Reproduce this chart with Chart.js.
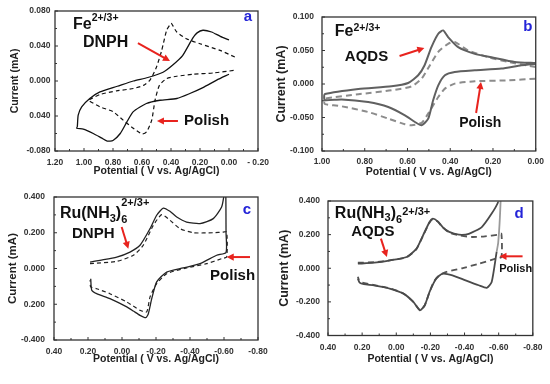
<!DOCTYPE html>
<html><head><meta charset="utf-8">
<script src="https://cdn.jsdelivr.net/npm/chart.js@4"></script>
<style>
html,body{margin:0;padding:0;background:#fff;width:550px;height:384px;overflow:hidden}
canvas{position:absolute;left:0;top:0}
</style></head><body>
<canvas id="ca" width="550" height="384"></canvas>
<canvas id="cb" width="550" height="384"></canvas>
<canvas id="cc" width="550" height="384"></canvas>
<canvas id="cd" width="550" height="384"></canvas>
<script>
// ---------- Panel a : Fe2+/3+ , DNPH vs Polish ----------
const aDnphV = [0.00,0.06,0.12,0.18,0.22,0.25,0.32,0.39,0.455,0.56,0.66,0.77,0.89,0.96,1.016,1.04,1.046,1.05,1.005,0.936,0.88,0.84,0.80,0.75,0.705,0.66,0.57,0.476,0.36,0.27,0.18,0.085,0.00];
const aDnphI = [0.047,0.051,0.056,0.058,0.055,0.049,0.029,0.018,0.010,0.004,0.000,-0.006,-0.0125,-0.020,-0.0295,-0.039,-0.052,-0.054,-0.055,-0.060,-0.065,-0.0686,-0.068,-0.060,-0.047,-0.035,-0.0257,-0.022,-0.020,-0.0143,-0.0075,0.001,0.0077];
const aPolishV = [-0.04,0.062,0.20,0.29,0.36,0.395,0.40,0.43,0.464,0.50,0.545,0.59,0.66,0.775,0.89,0.96,0.97,0.89,0.80,0.73,0.66,0.60,0.568,0.533,0.51,0.48,0.43,0.36,0.246,0.108,-0.04];
const aPolishI = [0.0274,0.035,0.0426,0.048,0.056,0.0654,0.066,0.058,0.035,0.016,0.001,-0.005,-0.0086,-0.0113,-0.0154,-0.021,-0.022,-0.0295,-0.035,-0.0447,-0.054,-0.0606,-0.058,-0.0447,-0.022,-0.005,0.0028,0.0054,0.0077,0.0092,0.0122];
const aXVals = [1.2,1.0,0.8,0.6,0.4,0.2,0.0,-0.2];
const aXLabels = ['1.20','1.00','0.80','0.60','0.40','0.20','0.00','- 0.20'];
const aYVals = [0.08,0.04,0,-0.04,-0.08];
const aYLabels = ['0.080','0.040','0.000','0.040','-0.080'];

// ---------- Panel b : Fe2+/3+ , AQDS vs Polish ----------
const bAqdsV = [0.00,0.098,0.207,0.285,0.363,0.41,0.433,0.456,0.488,0.52,0.55,0.597,0.675,0.83,0.986,0.99,0.986,0.908,0.784,0.69,0.612,0.565,0.534,0.503,0.48,0.456,0.425,0.379,0.285,0.16,0.067,0.00];
const bAqdsI = [0.0313,0.033,0.040,0.045,0.055,0.070,0.080,0.075,0.055,0.028,0.013,0.0015,-0.0034,-0.0075,-0.015,-0.020,-0.0243,-0.023,-0.027,-0.0343,-0.0467,-0.0567,-0.0616,-0.0517,-0.0243,-0.002,0.013,0.018,0.0205,0.023,0.028,0.030];
const bPolishV = [0.00,0.13,0.223,0.316,0.379,0.41,0.456,0.495,0.534,0.58,0.675,0.83,0.986,0.99,0.986,0.908,0.784,0.69,0.612,0.58,0.534,0.503,0.456,0.425,0.379,0.285,0.13,0.00];
const bPolishI = [0.0254,0.033,0.040,0.050,0.0627,0.060,0.048,0.028,0.008,-0.0034,-0.0094,-0.0153,-0.022,-0.026,-0.030,-0.0333,-0.0418,-0.0517,-0.0601,-0.0616,-0.058,-0.044,-0.0194,-0.0069,0.0006,0.004,0.0055,0.008];
const bXVals = [1.0,0.8,0.6,0.4,0.2,0.0];
const bXLabels = ['1.00','0.80','0.60','0.40','0.20','0.00'];
const bYVals = [0.1,0.05,0,-0.05,-0.1];
const bYLabels = ['0.100','0.050','0.000','-0.050','-0.100'];

// ---------- Panel c : Ru(NH3)6 2+/3+ , DNPH vs Polish ----------
const cDnphV = [0.188,0.13,0.031,-0.047,-0.106,-0.165,-0.204,-0.243,-0.282,-0.322,-0.38,-0.459,-0.537,-0.586,-0.60,-0.604,-0.61,-0.612,-0.612,-0.557,-0.459,-0.36,-0.263,-0.204,-0.175,-0.155,-0.14,-0.106,-0.067,-0.028,0.071,0.149,0.178,0.184];
const cDnphI = [0.036,0.046,0.064,0.092,0.13,0.223,0.298,0.338,0.32,0.288,0.26,0.251,0.279,0.344,0.41,0.45,0.45,0.2,0.09,0.074,0.027,0.003,-0.02,-0.075,-0.169,-0.253,-0.275,-0.262,-0.238,-0.215,-0.169,-0.141,-0.122,-0.057];
const cPolishV = [0.188,0.031,-0.067,-0.125,-0.184,-0.233,-0.282,-0.341,-0.42,-0.537,-0.596,-0.616,-0.616,-0.586,-0.498,-0.38,-0.263,-0.204,-0.165,-0.145,-0.106,-0.028,0.071,0.149,0.184,0.188];
const cPolishI = [0.027,0.04,0.074,0.13,0.241,0.301,0.27,0.223,0.20,0.20,0.204,0.204,0.065,0.055,0.027,0.003,-0.029,-0.085,-0.159,-0.243,-0.234,-0.187,-0.141,-0.113,-0.103,-0.066];
const cXVals = [0.4,0.2,0,-0.2,-0.4,-0.6,-0.8];
const cXLabels = ['0.40','0.20','0.00','-0.20','-0.40','-0.60','-0.80'];
const cYVals = [0.4,0.2,0,-0.2,-0.4];
const cYLabels = ['0.400','0.200','0.000','0.200','-0.400'];

// ---------- Panel d : Ru(NH3)6 2+/3+ , AQDS vs Polish ----------
const dAqdsV = [0.225,0.129,0.034,-0.061,-0.118,-0.157,-0.195,-0.214,-0.243,-0.272,-0.31,-0.367,-0.425,-0.501,-0.559,-0.597,-0.605,-0.612,-0.607,-0.597,-0.588,-0.559,-0.53,-0.483,-0.406,-0.329,-0.272,-0.233,-0.195,-0.167,-0.138,-0.1,-0.042,0.034,0.13,0.19,0.215,0.225];
const dAqdsI = [0.027,0.033,0.047,0.067,0.116,0.196,0.275,0.295,0.279,0.245,0.216,0.2,0.205,0.245,0.325,0.394,0.45,0.45,0.3,0.15,0.097,-0.082,-0.116,-0.101,-0.072,-0.042,-0.032,-0.062,-0.141,-0.22,-0.25,-0.2,-0.151,-0.122,-0.102,-0.095,-0.085,-0.062];
const dPolishV = [0.225,0.129,0.034,-0.061,-0.118,-0.157,-0.195,-0.214,-0.243,-0.272,-0.31,-0.367,-0.444,-0.52,-0.597,-0.616,-0.616,-0.582,-0.483,-0.39,-0.294,-0.253,-0.22,-0.195,-0.167,-0.14,-0.1,-0.042,0.034,0.13,0.2,0.22,0.225];
const dPolishI = [0.033,0.036,0.048,0.066,0.114,0.194,0.272,0.292,0.277,0.243,0.212,0.196,0.186,0.19,0.2,0.205,0.067,0.057,0.027,0.001,-0.022,-0.042,-0.08,-0.141,-0.22,-0.25,-0.2,-0.15,-0.12,-0.1,-0.085,-0.066,-0.05];
const dXVals = [0.4,0.2,0,-0.2,-0.4,-0.6,-0.8];
const dXLabels = ['0.40','0.20','0.00','-0.20','-0.40','-0.60','-0.80'];
const dYVals = [0.4,0.2,0,-0.2,-0.4];
const dYLabels = ['0.400','0.200','0.000','-0.200','-0.400'];

const X_TITLE = 'Potential ( V vs. Ag/AgCl)';
const Y_TITLE = 'Current (mA)';
const FONT = "'Liberation Sans', Arial, sans-serif";
const RED = '#e8231e';
const BLUE = '#2424d8';
Chart.defaults.font.family = FONT;

function pts(v, i) { return v.map((x, k) => ({x: x, y: i[k]})); }

function drawArrow(ctx, x1, y1, x2, y2) {
  const a = Math.atan2(y2 - y1, x2 - x1), L = 7, W = 3.6;
  ctx.strokeStyle = RED; ctx.fillStyle = RED; ctx.lineWidth = 2; ctx.setLineDash([]);
  ctx.beginPath(); ctx.moveTo(x1, y1); ctx.lineTo(x2 - L * 0.7 * Math.cos(a), y2 - L * 0.7 * Math.sin(a)); ctx.stroke();
  ctx.beginPath(); ctx.moveTo(x2, y2);
  ctx.lineTo(x2 - L * Math.cos(a) + W * Math.sin(a), y2 - L * Math.sin(a) - W * Math.cos(a));
  ctx.lineTo(x2 - L * Math.cos(a) - W * Math.sin(a), y2 - L * Math.sin(a) + W * Math.cos(a));
  ctx.closePath(); ctx.fill();
}

function drawRich(ctx, x, y, segs, color) {
  let cx = x, prev = x;
  ctx.fillStyle = color; ctx.textBaseline = 'middle'; ctx.textAlign = 'left';
  for (const s of segs) {
    ctx.font = 'bold ' + s.size + 'px ' + FONT;
    const start = s.stack ? prev : cx;
    ctx.fillText(s.t, start, y + (s.dy || 0));
    const w = ctx.measureText(s.t).width;
    prev = start;
    cx = Math.max(cx, start + w);
  }
}

function makePlugins(notes) {
  return [{
    id: 'frameNotes',
    afterDatasetsDraw(chart) {
      const {ctx, chartArea: a, scales: {x, y}} = chart;
      ctx.save();
      ctx.setLineDash([]);
      ctx.strokeStyle = '#333'; ctx.lineWidth = 1.3;
      ctx.strokeRect(a.left, a.top, a.right - a.left, a.bottom - a.top);
      ctx.lineWidth = 1;
      const xt = x.ticks.map(t => t.value), yt = y.ticks.map(t => t.value);
      xt.forEach((v, k) => {
        const p = x.getPixelForValue(v);
        ctx.beginPath(); ctx.moveTo(p, a.bottom); ctx.lineTo(p, a.bottom - 3); ctx.stroke();
        if (k < xt.length - 1) { const m = x.getPixelForValue((v + xt[k + 1]) / 2); ctx.beginPath(); ctx.moveTo(m, a.bottom); ctx.lineTo(m, a.bottom - 2); ctx.stroke(); }
      });
      yt.forEach((v, k) => {
        const p = y.getPixelForValue(v);
        ctx.beginPath(); ctx.moveTo(a.left, p); ctx.lineTo(a.left + 3, p); ctx.stroke();
        if (k < yt.length - 1) { const m = y.getPixelForValue((v + yt[k + 1]) / 2); ctx.beginPath(); ctx.moveTo(a.left, m); ctx.lineTo(a.left + 2, m); ctx.stroke(); }
      });
      for (const n of notes) {
        if (n.arrow) {
          const q = n.arrow;
          drawArrow(ctx, x.getPixelForValue(q[0]), y.getPixelForValue(q[1]), x.getPixelForValue(q[2]), y.getPixelForValue(q[3]));
        } else if (n.letter) {
          ctx.fillStyle = BLUE; ctx.font = 'bold 15px ' + FONT; ctx.textAlign = 'center'; ctx.textBaseline = 'middle';
          ctx.fillText(n.letter, x.getPixelForValue(n.x), y.getPixelForValue(n.y));
        } else {
          drawRich(ctx, x.getPixelForValue(n.x), y.getPixelForValue(n.y), n.segs, '#111');
        }
      }
      ctx.restore();
    }
  }];
}

function makePanel(id, p) {
  const tf = p.titleSize, lhX = 10.5 * 1.2, lhY = tf * 1.2;
  const pL = p.yTitleX - lhY / 2;
  const yW = p.area.l - pL;
  const xH = p.xTitleY - p.area.b + lhX / 2;
  const pB = 384 - p.area.b - xH;
  const tickFont = {family: FONT, size: 8.5, weight: 'bold'};
  return new Chart(document.getElementById(id), {
    type: 'scatter',
    data: {datasets: p.datasets.map(d => Object.assign({showLine: true, pointRadius: 0, tension: 0.2, fill: false}, d))},
    options: {
      responsive: false, animation: false, events: [],
      layout: {padding: {left: pL, top: p.area.t, right: 550 - p.area.r, bottom: pB}},
      plugins: {legend: {display: false}, tooltip: {enabled: false}},
      scales: {
        x: {
          type: 'linear', position: 'bottom', reverse: true, min: p.xMin, max: p.xMax,
          afterFit: s => { s.height = xH; },
          afterBuildTicks: s => { s.ticks = p.xVals.map(v => ({value: v})); },
          ticks: {callback: (v, i) => p.xLabels[i], autoSkip: false, maxRotation: 0, minRotation: 0, padding: p.xPad, font: tickFont, color: '#333'},
          grid: {display: false, drawTicks: false}, border: {display: false},
          title: {display: true, text: X_TITLE, font: {family: FONT, size: 10.5, weight: 'bold'}, color: '#222', padding: 0}
        },
        y: {
          type: 'linear', position: 'left', min: p.yMin, max: p.yMax,
          afterFit: s => { s.width = yW; },
          afterBuildTicks: s => { s.ticks = p.yVals.map(v => ({value: v})); },
          ticks: {callback: (v, i) => p.yLabels[i], autoSkip: false, padding: p.yPad, font: tickFont, color: '#333'},
          grid: {display: false, drawTicks: false}, border: {display: false},
          title: {display: true, text: Y_TITLE, font: {family: FONT, size: tf, weight: 'bold'}, color: '#222', padding: 0}
        }
      }
    },
    plugins: makePlugins(p.notes)
  });
}

makePanel('ca', {
  area: {l: 55, t: 11, r: 258, b: 151}, xTitleY: 171, yTitleX: 15, titleSize: 10.5, xPad: 7, yPad: 4.5,
  xMin: -0.2, xMax: 1.2, yMin: -0.08, yMax: 0.08,
  xVals: aXVals, xLabels: aXLabels, yVals: aYVals, yLabels: aYLabels,
  datasets: [
    {data: pts(aDnphV, aDnphI), borderColor: '#111', borderWidth: 1.3},
    {data: pts(aPolishV, aPolishI), borderColor: '#111', borderWidth: 1.2, borderDash: [4, 3]}
  ],
  notes: [
    {x: 1.076, y: 0.064, segs: [{t: 'Fe', size: 16}, {t: '2+/3+', size: 10.5, dy: -7}]},
    {x: 1.007, y: 0.0434, segs: [{t: 'DNPH', size: 16}]},
    {arrow: [0.628, 0.0434, 0.407, 0.0229]},
    {x: 0.31, y: -0.0457, segs: [{t: 'Polish', size: 15}]},
    {arrow: [0.352, -0.0457, 0.497, -0.0457]},
    {letter: 'a', x: -0.131, y: 0.073}
  ]
});

makePanel('cb', {
  area: {l: 322, t: 17, r: 537, b: 151}, xTitleY: 172.5, yTitleX: 282, titleSize: 12.5, xPad: 6, yPad: 8,
  xMin: 0, xMax: 1.0, yMin: -0.1, yMax: 0.1,
  xVals: bXVals, xLabels: bXLabels, yVals: bYVals, yLabels: bYLabels,
  datasets: [
    {data: pts(bAqdsV, bAqdsI), borderColor: '#606060', borderWidth: 2},
    {data: pts(bPolishV, bPolishI), borderColor: '#8c8c8c', borderWidth: 2, borderDash: [6, 4]}
  ],
  notes: [
    {x: 0.94, y: 0.0776, segs: [{t: 'Fe', size: 16}, {t: '2+/3+', size: 10.5, dy: -4}]},
    {x: 0.893, y: 0.0403, segs: [{t: 'AQDS', size: 15}]},
    {arrow: [0.637, 0.0418, 0.521, 0.0537]},
    {x: 0.358, y: -0.058, segs: [{t: 'Polish', size: 14}]},
    {arrow: [0.279, -0.0433, 0.256, 0.003]},
    {letter: 'b', x: 0.037, y: 0.085}
  ]
});

makePanel('cc', {
  area: {l: 54, t: 197, r: 258, b: 340}, xTitleY: 359.5, yTitleX: 13, titleSize: 11.5, xPad: 7, yPad: 9,
  xMin: -0.8, xMax: 0.4, yMin: -0.4, yMax: 0.4,
  xVals: cXVals, xLabels: cXLabels, yVals: cYVals, yLabels: cYLabels,
  datasets: [
    {data: pts(cDnphV, cDnphI), borderColor: '#222', borderWidth: 1.3},
    {data: pts(cPolishV, cPolishI), borderColor: '#222', borderWidth: 1.2, borderDash: [4, 3]}
  ],
  notes: [
    {x: 0.365, y: 0.307, segs: [{t: 'Ru(NH', size: 16}, {t: '3', size: 11, dy: 5}, {t: ')', size: 16}, {t: '6', size: 11, dy: 6}, {t: '2+/3+', size: 11, dy: -11, stack: true}]},
    {x: 0.294, y: 0.195, segs: [{t: 'DNPH', size: 15}]},
    {arrow: [0.002, 0.232, -0.037, 0.111]},
    {x: -0.518, y: -0.042, segs: [{t: 'Polish', size: 15}]},
    {arrow: [-0.753, 0.064, -0.616, 0.064]},
    {letter: 'c', x: -0.735, y: 0.327}
  ]
});

makePanel('cd', {
  area: {l: 328, t: 201, r: 537, b: 335.5}, xTitleY: 359.5, yTitleX: 285, titleSize: 12.5, xPad: 7.5, yPad: 8,
  xMin: -0.8, xMax: 0.4, yMin: -0.4, yMax: 0.4,
  xVals: dXVals, xLabels: dXLabels, yVals: dYVals, yLabels: dYLabels,
  datasets: [
    {data: pts(dAqdsV, dAqdsI), borderColor: '#4a4a4a', borderWidth: 1.8,
     segment: {borderColor: c => (c.p0.parsed.x < -0.585 && c.p1.parsed.x < -0.585) ? '#9a9a9a' : undefined}},
    {data: pts(dPolishV, dPolishI), borderColor: '#555', borderWidth: 1.8, borderDash: [6, 4]}
  ],
  notes: [
    {x: 0.36, y: 0.324, segs: [{t: 'Ru(NH', size: 16}, {t: '3', size: 11, dy: 4}, {t: ')', size: 16}, {t: '6', size: 11, dy: 6}, {t: '2+/3+', size: 11, dy: -2}]},
    {x: 0.264, y: 0.216, segs: [{t: 'AQDS', size: 15}]},
    {arrow: [0.09, 0.176, 0.055, 0.067]},
    {x: -0.603, y: -0.006, segs: [{t: 'Polish', size: 11}]},
    {arrow: [-0.74, 0.071, -0.605, 0.071]},
    {letter: 'd', x: -0.72, y: 0.324}
  ]
});
</script>
</body></html>
